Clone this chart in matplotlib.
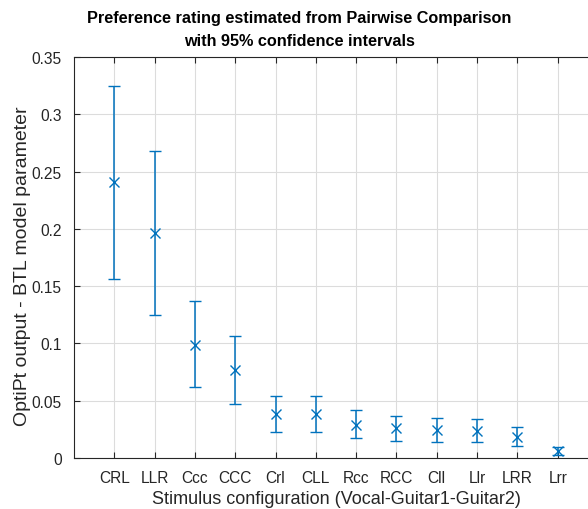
import matplotlib
matplotlib.use("Agg")
import matplotlib.pyplot as plt
import numpy as np

plt.rcParams['font.family'] = ['Liberation Sans', 'DejaVu Sans']

configs = ['CRL', 'LLR', 'Ccc', 'CCC', 'Crl', 'CLL', 'Rcc', 'RCC', 'Cll', 'Llr', 'LRR', 'Lrr']
ratings = [0.2406, 0.196, 0.0989, 0.0765, 0.0387, 0.0384, 0.0291, 0.0259, 0.0247, 0.0239, 0.0183, 0.0064]
ci_upper = [0.325, 0.2677, 0.137, 0.1062, 0.0538, 0.0538, 0.0415, 0.0364, 0.0352, 0.034, 0.0271, 0.0099]
ci_lower = [0.156, 0.1248, 0.0617, 0.0471, 0.023, 0.023, 0.0175, 0.0148, 0.014, 0.0137, 0.0102, 0.0029]

blue = '#0072BD'
axis_col = '#262626'

fig = plt.figure(figsize=(5.88, 5.10), dpi=100)
ax = fig.add_axes([74 / 588, 1 - 459 / 510, 524 / 588, 401 / 510])

x = np.arange(1, len(configs) + 1)
r = np.array(ratings)
yerr = np.vstack([r - np.array(ci_lower), np.array(ci_upper) - r])
ax.errorbar(x, r, yerr=yerr, fmt='x', color=blue, ecolor=blue,
            elinewidth=1.1, capsize=4.5, capthick=1.1,
            markersize=7, markeredgewidth=1.0, linestyle='none')

ax.set_xlim(0, 13)
ax.set_ylim(0, 0.35)
ax.set_xticks(x)
ax.set_xticklabels(configs)
ax.set_yticks(np.arange(0, 0.351, 0.05))
ax.set_yticklabels(['0', '0.05', '0.1', '0.15', '0.2', '0.25', '0.3', '0.35'])

ax.grid(True, color='#dcdcdc', linewidth=0.8)
ax.set_axisbelow(True)
for side, sp in ax.spines.items():
    sp.set_color(axis_col)
    sp.set_linewidth(0.8)
ax.spines['right'].set_visible(False)
ax.tick_params(direction='in', length=4, width=0.8, color=axis_col,
               labelcolor=axis_col, labelsize=11.2, top=True, right=False)
ax.tick_params(axis='x', pad=9)
ax.tick_params(axis='y', pad=9)

ax.set_xlabel('Stimulus configuration (Vocal-Guitar1-Guitar2)', fontsize=13,
              color=axis_col, labelpad=3)
ax.set_ylabel('OptiPt output - BTL model parameter', fontsize=14,
              color=axis_col, labelpad=0)
ax.yaxis.set_label_coords(-0.082, 0.48)

# title centred over the visible part of the plot
fig.text(299 / 588, 1 - 30 / 510,
         'Preference rating estimated from Pairwise Comparison\nwith 95% confidence intervals',
         ha='center', va='center', fontsize=11.7, fontweight='bold', color='black',
         linespacing=1.6)

fig.savefig('out.png', dpi=100)
